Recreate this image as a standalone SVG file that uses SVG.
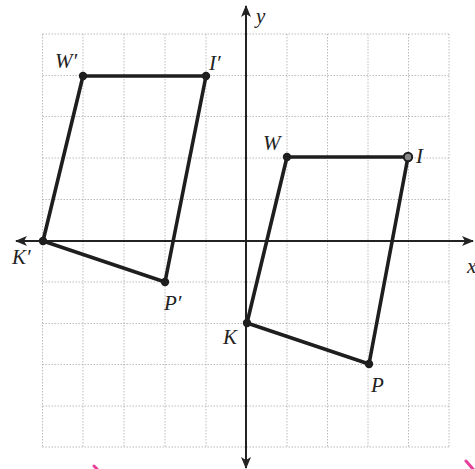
<svg xmlns="http://www.w3.org/2000/svg" width="475" height="469" viewBox="0 0 475 469">
<defs>
<style>
.grid line{stroke:#ababab;stroke-width:0.8;stroke-dasharray:1.5 1.5}
.axis{stroke:#222;stroke-width:2;fill:none}
.shape{stroke:#1e1e1e;stroke-width:3.6;fill:none;stroke-linejoin:round}
.dot{fill:#1e1e1e}
.lbl{font-family:"Liberation Serif","Times New Roman",serif;font-style:italic;font-size:21px;fill:#222}
</style>
<marker id="arr" viewBox="0 0 12 10" refX="11" refY="5" markerWidth="12" markerHeight="10" markerUnits="userSpaceOnUse" orient="auto">
<path d="M0,0 L12,5 L0,10 L3,5 Z" fill="#222"/>
</marker>
</defs>
<rect width="475" height="469" fill="#fff"/>
<g id="grid" class="grid">
<line x1="42.5" y1="34" x2="42.5" y2="447"/>
<line x1="83" y1="34" x2="83" y2="447"/>
<line x1="124" y1="34" x2="124" y2="447"/>
<line x1="165" y1="34" x2="165" y2="447"/>
<line x1="206" y1="34" x2="206" y2="447"/>
<line x1="287" y1="34" x2="287" y2="447"/>
<line x1="327.5" y1="34" x2="327.5" y2="447"/>
<line x1="368" y1="34" x2="368" y2="447"/>
<line x1="408.5" y1="34" x2="408.5" y2="447"/>
<line x1="449" y1="34" x2="449" y2="447"/>
<line x1="42.5" y1="34" x2="449" y2="34"/>
<line x1="42.5" y1="75.5" x2="449" y2="75.5"/>
<line x1="42.5" y1="116.5" x2="449" y2="116.5"/>
<line x1="42.5" y1="158" x2="449" y2="158"/>
<line x1="42.5" y1="199.5" x2="449" y2="199.5"/>
<line x1="42.5" y1="282" x2="449" y2="282"/>
<line x1="42.5" y1="323.5" x2="449" y2="323.5"/>
<line x1="42.5" y1="364.5" x2="449" y2="364.5"/>
<line x1="42.5" y1="406" x2="449" y2="406"/>
<line x1="42.5" y1="447" x2="449" y2="447"/>
</g>
<g id="axes">
<line class="axis" x1="16" y1="241" x2="473" y2="241" marker-end="url(#arr)"/>
<line class="axis" x1="40" y1="241" x2="16" y2="241" marker-end="url(#arr)"/>
<line class="axis" x1="246" y1="240" x2="246" y2="6" marker-end="url(#arr)"/>
<line class="axis" x1="246" y1="240" x2="246" y2="468" marker-end="url(#arr)"/>
<text class="lbl" x="256" y="23" font-size="19">y</text>
<text class="lbl" x="467" y="273">x</text>
</g>
<g id="connectors">
<polygon class="shape" points="83,76 206,76 165,282 43,241"/>
<polygon class="shape" points="287,157 408,157 369,364 247,323"/>
</g>
<g id="node-Wp"><circle class="dot" cx="83" cy="76" r="4.2"/><text class="lbl" x="55" y="68">W′</text></g>
<g id="node-Ip"><circle class="dot" cx="206" cy="76" r="4.2"/><text class="lbl" x="209" y="70">I′</text></g>
<g id="node-Kp"><circle class="dot" cx="43" cy="241" r="4.2"/><text class="lbl" x="12" y="264">K′</text></g>
<g id="node-Pp"><circle class="dot" cx="165" cy="282" r="4.2"/><text class="lbl" x="164" y="310">P′</text></g>
<g id="node-W"><circle class="dot" cx="287" cy="157" r="4.2"/><text class="lbl" x="263" y="150">W</text></g>
<g id="node-I"><circle cx="408" cy="157" r="4.2" fill="#888" stroke="#1e1e1e" stroke-width="2"/><text class="lbl" x="416" y="163">I</text></g>
<g id="node-K"><circle class="dot" cx="247" cy="323" r="4.2"/><text class="lbl" x="223" y="344">K</text></g>
<g id="node-P"><circle class="dot" cx="369" cy="364" r="4.2"/><text class="lbl" x="371" y="392">P</text></g>
<g id="marks" stroke="#e8409a" stroke-width="3" stroke-linecap="round">
<line x1="94" y1="466" x2="97" y2="469"/>
<line x1="466" y1="461" x2="473" y2="469"/>
</g>
</svg>
